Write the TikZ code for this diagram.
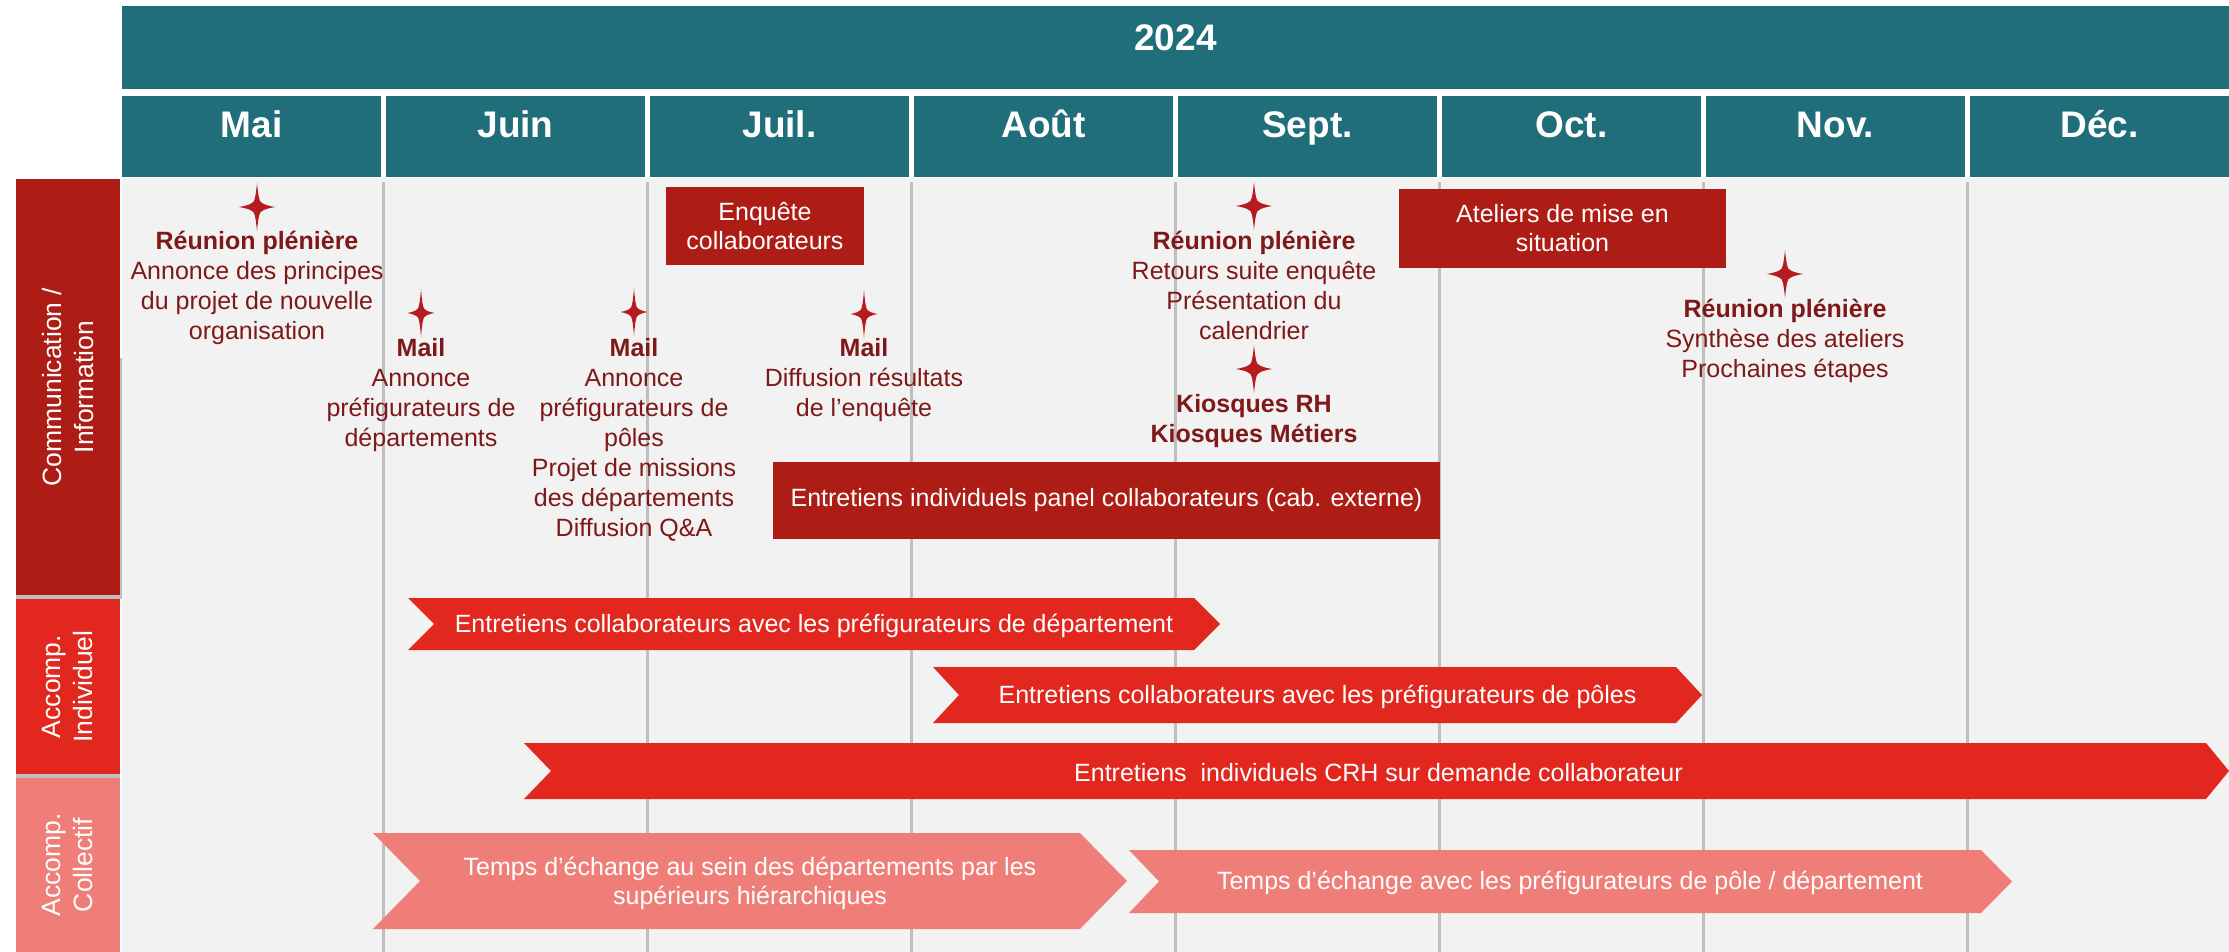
\documentclass[tikz,border=0pt]{standalone}
\usepackage{fontspec}
\setmainfont{Liberation Sans}
\definecolor{hdrteal}{HTML}{216E7B}
\definecolor{bggrey}{HTML}{F2F2F2}
\definecolor{linegrey}{HTML}{BFBFBF}
\definecolor{darkred}{HTML}{AD1C15}
\definecolor{brightred}{HTML}{E2281E}
\definecolor{salmon}{HTML}{F07E78}
\definecolor{evtred}{HTML}{7F1818}
\definecolor{starred}{HTML}{B51B1F}
\tikzset{
  yeartxt/.style={text=white, inner sep=0, font=\fontsize{18.5}{22}\selectfont\bfseries},
  monthtxt/.style={text=white, inner sep=0, anchor=base, font=\fontsize{18.5}{22}\selectfont\bfseries},
  sidetxt/.style={text=white, inner sep=0, rotate=90, align=center, font=\fontsize{13.25}{16}\selectfont},
  darkbox/.style={fill=darkred, text=white, inner sep=0, outer sep=0, align=center, font=\fontsize{12.5}{14.5}\selectfont},
  evt/.style={anchor=north, inner sep=0, align=center, text=evtred, font=\fontsize{12.5}{15}\selectfont},
  arrtxt/.style={text=white, inner sep=0, align=center, font=\fontsize{12.5}{14.5}\selectfont},
  vline/.style={draw=linegrey, line width=1.5pt},
  bigstar/.pic={\fill[starred] (0,-24) .. controls (1.5,-8) and (3,-4.5) .. (4.5,-4.5) .. controls (6,-3) and (10,-1.2) .. (18.5,0) .. controls (10,1.2) and (6,3) .. (4.5,4.5) .. controls (3,4.5) and (1.5,8) .. (0,24) .. controls (-1.5,8) and (-3,4.5) .. (-4.5,4.5) .. controls (-6,3) and (-10,1.2) .. (-18.5,0) .. controls (-10,-1.2) and (-6,-3) .. (-4.5,-4.5) .. controls (-3,-4.5) and (-1.5,-8) .. (0,-24) -- cycle;},
  smallstar/.pic={\fill[starred] (0,-24) .. controls (1.2,-8) and (2.5,-4.5) .. (3.5,-4) .. controls (5,-2.5) and (8,-1) .. (13.5,0) .. controls (8,1) and (5,2.5) .. (3.5,4) .. controls (2.5,4.5) and (1.2,8) .. (0,24) .. controls (-1.2,8) and (-2.5,4.5) .. (-3.5,4) .. controls (-5,2.5) and (-8,1) .. (-13.5,0) .. controls (-8,-1) and (-5,-2.5) .. (-3.5,-4) .. controls (-2.5,-4.5) and (-1.2,-8) .. (0,-24) -- cycle;}
}
\newcommand{\fl}{\rule{0pt}{10pt}}
\begin{document}
\begin{tikzpicture}[x=0.5pt,y=-0.5pt]
\useasboundingbox (0,0) rectangle (2229,952);
\fill[white] (0,0) rectangle (2229,952);
% year band
\fill[hdrteal] (122,6) rectangle (2229,89);
\node[yeartxt, anchor=base] (y2024) at (1175.5,51) {2024};
% months
\foreach \m [count=\k from 0] in {Mai,Juin,Juil.,Août,Sept.,Oct.,Nov.,Déc.} {
  \pgfmathsetmacro\xa{119+264*\k+3}
  \pgfmathsetmacro\xb{min(119+264*(\k+1)-2,2229)}
  \fill[hdrteal] (\xa,96) rectangle (\xb,177);
  \node[monthtxt] (m\k) at ({(\xa+\xb)/2},138) {\m};
}
% grey area
\fill[bggrey] (122,178) rectangle (2229,952);
\foreach \k in {1,...,7} {
  \draw[vline] ({119+264*\k},182) -- ({119+264*\k},952);
}
% left labels
\fill[linegrey] (16,358) rectangle (122,599);
\fill[linegrey] (16,774) rectangle (120,778);
\fill[darkred] (16,179) rectangle (120,595);
\fill[brightred] (16,599) rectangle (120,774);
\fill[salmon] (16,778) rectangle (120,952);
\node[sidetxt] (lcomm) at (68,387) {Communication /\\Information};
\node[sidetxt] (lind) at (68,686.5) {Accomp.\\Individuel};
\node[sidetxt] (lcol) at (68,865) {Accomp.\\Collectif};
% dark boxes
\node[darkbox, minimum width=99pt, minimum height=39pt] (enq) at (765,226) {Enquête\\collaborateurs};
\node[darkbox, minimum width=163.5pt, minimum height=39.5pt] (atel) at (1562.5,228.5) {Ateliers de mise en\\situation};
\node[darkbox, minimum width=333.5pt, minimum height=38.5pt] (panel) at (1106.5,500.5) {Entretiens individuels panel collaborateurs (cab. externe)};
% events
\pic at (257,207) {bigstar};
\node[evt] (e1) at (257,229) {\fl\textbf{Réunion plénière}\\Annonce des principes\\du projet de nouvelle\\organisation};
\pic at (421,313) {smallstar};
\node[evt] (e2) at (421,336) {\fl\textbf{Mail}\\Annonce\\préfigurateurs de\\départements};
\pic at (634,312) {smallstar};
\node[evt] (e3) at (634,336) {\fl\textbf{Mail}\\Annonce\\préfigurateurs de\\pôles\\Projet de missions\\des départements\\Diffusion Q\&A};
\pic at (864,314) {smallstar};
\node[evt] (e4) at (864,336) {\fl\textbf{Mail}\\Diffusion résultats\\de l’enquête};
\pic at (1254,206) {bigstar};
\node[evt] (e5) at (1254,229) {\fl\textbf{Réunion plénière}\\Retours suite enquête\\Présentation du\\calendrier};
\pic at (1254,369) {bigstar};
\node[evt] (e6) at (1254,392) {\fl\textbf{Kiosques RH}\\\textbf{Kiosques Métiers}};
\pic at (1785,274) {bigstar};
\node[evt] (e7) at (1785,297) {\fl\textbf{Réunion plénière}\\Synthèse des ateliers\\Prochaines étapes};
% chevrons
\fill[brightred] (408,598) -- (1194,598) -- (1220,624) -- (1194,650) -- (408,650) -- (434,624) -- cycle;
\node[arrtxt] (a1) at (814,626) {Entretiens collaborateurs avec les préfigurateurs de département};
\fill[brightred] (933,667) -- (1676,667) -- (1702,695) -- (1676,723) -- (933,723) -- (959,695) -- cycle;
\node[arrtxt] (a2) at (1317.5,697) {Entretiens collaborateurs avec les préfigurateurs de pôles};
\fill[brightred] (524,743) -- (2206,743) -- (2229,771) -- (2206,799) -- (524,799) -- (551,771) -- cycle;
\node[arrtxt] (a3) at (1378.5,773) {Entretiens~ individuels CRH sur demande collaborateur};
\fill[salmon] (373,833) -- (1080,833) -- (1127,881) -- (1080,929) -- (373,929) -- (420,881) -- cycle;
\node[arrtxt] (a4) at (750,883.5) {Temps d’échange au sein des départements par les\\supérieurs hiérarchiques};
\fill[salmon] (1129,850) -- (1981,850) -- (2012,881.5) -- (1981,913) -- (1129,913) -- (1159,881.5) -- cycle;
\node[arrtxt] (a5) at (1570,883) {Temps d’échange avec les préfigurateurs de pôle / département};
\end{tikzpicture}
\end{document}
